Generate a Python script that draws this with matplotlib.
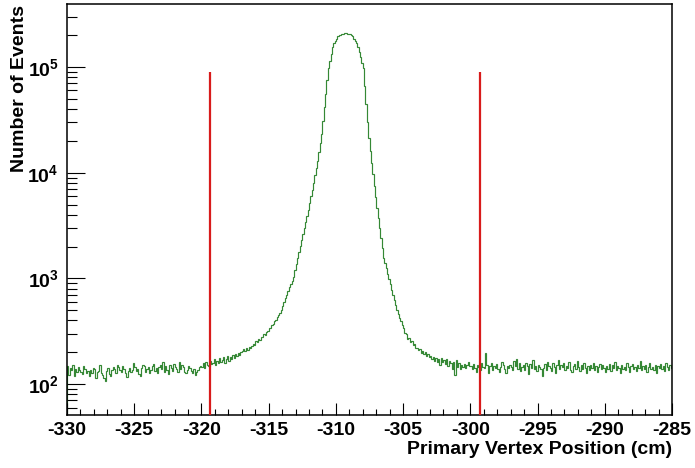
import numpy as np
import matplotlib
matplotlib.use("Agg")
import matplotlib.pyplot as plt
from matplotlib.ticker import LogLocator, MultipleLocator, FuncFormatter, NullFormatter

plt.rcParams['font.family'] = ['Liberation Sans', 'DejaVu Sans']
plt.rcParams['font.weight'] = 'bold'
plt.rcParams['axes.unicode_minus'] = False
plt.rcParams['mathtext.fontset'] = 'custom'
plt.rcParams['mathtext.rm'] = 'Liberation Sans:bold'
plt.rcParams['mathtext.bf'] = 'Liberation Sans:bold'
plt.rcParams['mathtext.it'] = 'Liberation Sans:bold'

# ---------------- data ----------------
x_min, x_max = -330.0, -285.0          # histogram range (cm), 0.1 cm bins
y_min, y_max = 51.0, 3.95e5

# -330 .. -320
counts_flat_left = [
    148, 122, 141, 135, 152, 118, 139, 129, 144, 136,
    131, 125, 147, 140, 128, 133, 119, 137, 126, 143,
    138, 115, 129, 134, 150, 127, 121, 113, 108, 132,
    141, 124, 119, 135, 146, 139, 128, 152, 144, 136,
    131, 149, 140, 126, 117, 134, 143, 129, 137, 158,
    146, 132, 139, 124, 120, 141, 153, 147, 130, 138,
    144, 128, 135, 149, 156, 133, 141, 127, 145, 152,
    139, 161, 131, 148, 137, 125, 150, 143, 134, 155,
    146, 140, 129, 162, 138, 151, 144, 130, 126, 136,
    147, 141, 133, 128, 139, 122, 131, 137, 144, 149]
# -320 .. -317
counts_rise_left = [
    146, 158, 141, 162, 152, 149, 167, 155, 160, 171,
    151, 164, 158, 176, 162, 169, 180, 158, 174, 185,
    166, 179, 171, 188, 176, 192, 183, 198, 187, 203]
# -317 .. -312
counts_flank_left = [
    204, 213, 205, 219, 211, 226, 218, 231, 240, 232,
    255, 248, 266, 262, 281, 276, 296, 290, 312, 318,
    338, 342, 366, 372, 398, 405, 428, 446, 470, 503,
    551, 597, 649, 703, 764, 824, 887, 955, 1038, 1189,
    1365, 1563, 1791, 2042, 2323, 2642, 3006, 3428, 3890, 4467]
# -312 .. -306
counts_peak = [
    5200, 5998, 6918, 7943, 9419, 11066, 13030, 15600, 19010, 23170,
    31120, 41690, 55980, 75000, 98900, 114800, 133000, 154200, 169800, 177800,
    186200, 195000, 200400, 203200, 205600, 207000, 208000, 208000, 207500, 206000,
    204200, 201000, 195000, 186200, 177800, 168300, 156300, 139000, 123600, 109900,
    97700, 66100, 44870, 30410, 21380, 16220, 12450, 9680, 7530, 5890,
    4677, 3715, 2979, 2399, 1928, 1567, 1396, 1245, 1109, 989]
# -306 .. -300
counts_flank_right = [
    881, 785, 700, 624, 556, 498, 460, 426, 394, 364,
    337, 305, 295, 268, 272, 249, 256, 235, 240, 219,
    221, 208, 215, 199, 207, 192, 201, 186, 194, 180,
    186, 172, 179, 165, 176, 163, 172, 150, 178, 161,
    168, 155, 171, 149, 166, 158, 140, 162, 122, 168,
    146, 159, 138, 152, 144, 155, 141, 150, 162, 147]
# -300 .. -285
counts_flat_right = [
    148, 139, 155, 142, 131, 150, 144, 137, 158, 146,
    141, 196, 152, 128, 147, 160, 135, 149, 143, 156,
    139, 131, 145, 162, 150, 138, 127, 147, 141, 153,
    144, 136, 166, 149, 171, 140, 158, 133, 146, 152,
    137, 160, 149, 125, 155, 143, 168, 138, 147, 132,
    150, 145, 139, 119, 142, 154, 136, 163, 148, 141,
    133, 157, 146, 127, 151, 170, 139, 152, 144, 158,
    135, 149, 142, 161, 137, 130, 147, 155, 140, 165,
    146, 132, 150, 139, 157, 143, 128, 148, 135, 153,
    142, 160, 137, 149, 131, 145, 156, 138, 151, 143,
    129, 147, 140, 155, 134, 150, 143, 161, 136, 148,
    141, 127, 152, 139, 146, 135, 158, 144, 131, 149,
    156, 138, 145, 133, 150, 142, 166, 137, 148, 140,
    153, 131, 146, 159, 138, 144, 135, 151, 128, 147,
    142, 155, 139, 149, 133, 160, 145, 137, 152, 141]

cut_positions = [-319.35, -299.3]
cut_top = 9.0e4

x_tick_values = [-330, -325, -320, -315, -310, -305, -300, -295, -290, -285]
x_label = "Primary Vertex Position (cm)"
y_label = "Number of Events"

counts = (counts_flat_left + counts_rise_left + counts_flank_left +
          counts_peak + counts_flank_right + counts_flat_right)
edges = np.linspace(x_min, x_max, len(counts) + 1)

# ---------------- figure ----------------
W, H = 695, 468
fig = plt.figure(figsize=(W / 100, H / 100), dpi=100)
ax = fig.add_axes([67 / W, 1 - 415 / H, (672 - 67) / W, (415 - 4) / H])

ax.stairs(counts, edges, color='#358835', lw=0.85)
ax.vlines(cut_positions, y_min, cut_top, colors='#d81b1b', lw=1.6, zorder=3)

ax.set_yscale('log')
ax.set_xlim(x_min, x_max)
ax.set_ylim(y_min, y_max)

ax.xaxis.set_major_locator(matplotlib.ticker.FixedLocator(x_tick_values))
ax.xaxis.set_minor_locator(MultipleLocator(1))
ax.yaxis.set_major_locator(LogLocator(base=10, numticks=20))
ax.yaxis.set_minor_locator(LogLocator(base=10, subs=np.arange(2, 10), numticks=20))
ax.yaxis.set_minor_formatter(NullFormatter())
ax.yaxis.set_major_formatter(FuncFormatter(
    lambda v, p: r'$\mathbf{10^{%d}}$' % int(round(np.log10(v)))))
ax.xaxis.set_major_formatter(FuncFormatter(lambda v, p: '%d' % v))

ax.tick_params(axis='x', which='major', direction='in', length=8.6, width=0.8,
               labelsize=14, pad=5, top=False)
ax.tick_params(axis='x', which='minor', direction='in', length=4.3, width=0.8, top=False)
ax.tick_params(axis='y', which='major', direction='in', length=13, width=0.8,
               labelsize=14, pad=6, right=False)
ax.tick_params(axis='y', which='minor', direction='in', length=7.2, width=0.8, right=False)
for lab in ax.get_xticklabels() + ax.get_yticklabels():
    lab.set_fontweight('bold')

for s in ax.spines.values():
    s.set_linewidth(1.1)
    s.set_color('black')

fig.text(672 / W, 1 - 449 / H, x_label, ha='right', va='center',
         fontsize=14, fontweight='bold')
fig.text(20 / W, 1 - 5 / H, y_label, ha='center', va='top', rotation=90,
         fontsize=14, fontweight='bold')

fig.savefig("out.png", dpi=100)
